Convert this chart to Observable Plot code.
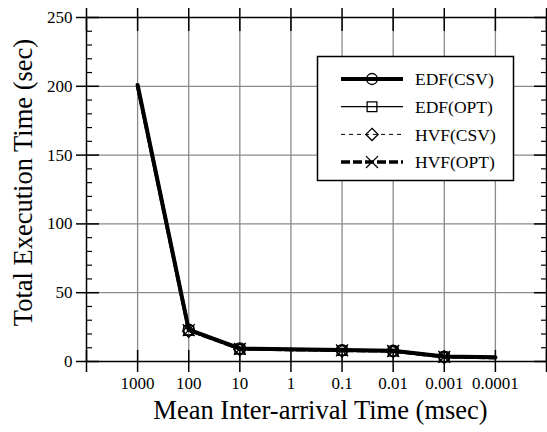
<!DOCTYPE html>
<html><head><meta charset="utf-8">
<script src="https://cdn.jsdelivr.net/npm/d3@7"></script>
<script src="https://cdn.jsdelivr.net/npm/@observablehq/plot@0.6"></script>
<style>
body{margin:0;background:#fff;}
#wrap{position:relative;width:547px;height:432px;}
#wrap svg{font-family:"Liberation Serif","Times New Roman",serif;}
#legend{position:absolute;left:0;top:0;}
</style></head><body><div id="wrap"></div>
<script>
// ---- data ----
const xValues = [1000, 100, 10, 0.1, 0.01, 0.001, 0.0001];
const markerX = [100, 10, 0.1, 0.01, 0.001];
const seriesNames = ["EDF(CSV)", "EDF(OPT)", "HVF(CSV)", "HVF(OPT)"];
const edfCsv = [201, 23.2, 9.5, 8.3, 7.8, 3.6, 3.0];
const edfOpt = [200, 22.6, 9.0, 8.0, 7.5, 3.3, 2.7];
const hvfCsv = [199, 22.0, 8.7, 7.7, 7.2, 3.0, 2.5];
const hvfOpt = [200, 22.8, 9.2, 8.1, 7.6, 3.4, 2.8];
const xTicks = [10000, 1000, 100, 10, 1, 0.1, 0.01, 0.001, 0.0001, 0.00001];
const xTickLabels = ["", "1000", "100", "10", "1", "0.1", "0.01", "0.001", "0.0001", ""];
const yMajor = [0, 50, 100, 150, 200, 250];
const yMinor = [10, 20, 30, 40, 60, 70, 80, 90, 110, 120, 130, 140, 160, 170, 180, 190, 210, 220, 230, 240];
const yGrid = [50, 100, 150, 200];
const xTitle = "Mean Inter-arrival Time (msec)";
const yTitle = "Total Execution Time (sec)";

// ---- styles ----
const seriesValues = [edfCsv, edfOpt, hvfCsv, hvfOpt];
const styles = [
  {strokeWidth: 4, dash: null, symbol: "circle"},
  {strokeWidth: 1.2, dash: null, symbol: "square"},
  {strokeWidth: 1, dash: "4,4", symbol: "diamond2"},
  {strokeWidth: 3.5, dash: "9,3", symbol: "times"}
];
const rows = seriesNames.flatMap((s, i) => xValues.map((x, j) => ({series: s, x, y: seriesValues[i][j]})));
const markerSet = new Set(markerX);
const labelMap = new Map(xTicks.map((t, i) => [t, xTickLabels[i]]));
const R = 5.5;

const lineMarks = seriesNames.map((s, i) => Plot.line(rows.filter(d => d.series === s), {
  x: "x", y: "y", stroke: "black", strokeWidth: styles[i].strokeWidth,
  strokeDasharray: styles[i].dash, strokeLinejoin: "round"
}));
const dotMarks = seriesNames.map((s, i) => Plot.dot(rows.filter(d => d.series === s && markerSet.has(d.x)), {
  x: "x", y: "y", symbol: () => styles[i].symbol, r: R, stroke: "black", strokeWidth: 1.3, fill: "none"
}));

const chart = Plot.plot({
  width: 547, height: 432,
  marginLeft: 86, marginRight: 1, marginTop: 17, marginBottom: 71,
  style: {fontFamily: '"Liberation Serif","Times New Roman",serif', fontSize: "17px", color: "black", background: "white"},
  x: {type: "log", domain: [10000, 0.00001]},
  y: {domain: [0, 250]},
  symbol: {type: "identity"},
  marks: [
    Plot.ruleX(xTicks.slice(1, -1), {stroke: "#8a8a8a", strokeWidth: 1.3}),
    Plot.ruleY(yGrid, {stroke: "#8a8a8a", strokeWidth: 1.3}),
    ...lineMarks,
    ...dotMarks,
    Plot.frame({stroke: "black", strokeWidth: 1.5}),
    // bottom axis: labels + outward ticks, inward ticks
    Plot.axisX({anchor: "bottom", ticks: xTicks, tickSize: 11, tickPadding: 4, tickFormat: d => labelMap.get(d), fontSize: 17, label: null, strokeWidth: 1.5}),
    Plot.axisX({anchor: "bottom", ticks: xTicks, tickSize: 11, dy: -11, fill: "none", label: null, strokeWidth: 1.5}),
    // top axis ticks crossing
    Plot.axisX({anchor: "top", ticks: xTicks, tickSize: 10, fill: "none", label: null, strokeWidth: 1.5}),
    Plot.axisX({anchor: "top", ticks: xTicks, tickSize: 13, dy: 13, fill: "none", label: null, strokeWidth: 1.5}),
    // left axis
    Plot.axisY({anchor: "left", ticks: yMajor, tickSize: 10, tickPadding: 4, fontSize: 17, label: null, strokeWidth: 1.5}),
    Plot.axisY({anchor: "left", ticks: yMajor, tickSize: 13, dx: 13, fill: "none", label: null, strokeWidth: 1.5}),
    Plot.axisY({anchor: "left", ticks: yMinor, tickSize: 6, dx: 6, fill: "none", label: null, strokeWidth: 1.2}),
    // right axis
    Plot.axisY({anchor: "right", ticks: yMajor, tickSize: 13, dx: -13, fill: "none", label: null, strokeWidth: 1.5}),
    Plot.axisY({anchor: "right", ticks: yMinor, tickSize: 6, dx: -6, fill: "none", label: null, strokeWidth: 1.2}),
    // titles
    Plot.text([xTitle], {frameAnchor: "bottom", textAnchor: "middle", dx: 4, dy: 57, fontSize: 26.5, fill: "black"}),
    Plot.text([yTitle], {frameAnchor: "left", textAnchor: "middle", dx: -63, dy: -7, rotate: -90, fontSize: 26.5, fill: "black"})
  ]
});
const wrap = document.getElementById("wrap");
wrap.appendChild(chart);

// ---- legend overlay ----
const symTypes = {circle: d3.symbolCircle, square: d3.symbolSquare, diamond2: d3.symbolDiamond2, times: d3.symbolTimes};
const lg = d3.select(wrap).append("svg").attr("id", "legend").attr("width", 547).attr("height", 432);
lg.append("rect").attr("x", 317.5).attr("y", 56.5).attr("width", 196).attr("height", 124)
  .attr("fill", "white").attr("stroke", "black").attr("stroke-width", 1.5);
seriesNames.forEach((s, i) => {
  const cy = 79 + i * 27.7;
  const g = lg.append("g");
  g.append("line").attr("x1", 341).attr("x2", 403).attr("y1", cy).attr("y2", cy)
    .attr("stroke", "black").attr("stroke-width", styles[i].strokeWidth)
    .attr("stroke-dasharray", styles[i].dash);
  g.append("path").attr("d", d3.symbol(symTypes[styles[i].symbol], Math.PI * R * R)())
    .attr("transform", `translate(372,${cy})`).attr("fill", "none").attr("stroke", "black").attr("stroke-width", 1.3);
  g.append("text").attr("x", 415).attr("y", cy).attr("dy", "0.35em")
    .attr("font-size", 17.5).attr("fill", "black").text(s);
});
</script></body></html>
